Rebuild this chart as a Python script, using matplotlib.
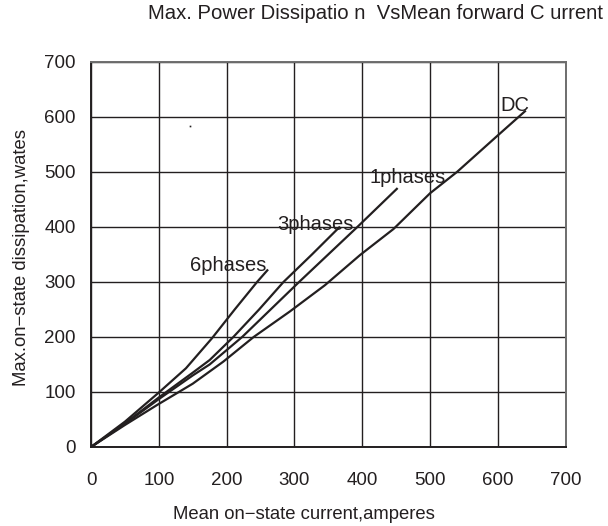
import matplotlib
matplotlib.use("Agg")
import matplotlib.pyplot as plt

plt.rcParams["font.family"] = ["Liberation Sans", "DejaVu Sans"]

INK = "#231f20"

# curves (x: amperes, y: watts)
x_6ph = [0, 50, 100, 140, 178, 212, 245, 260]
y_6ph = [0, 46, 99, 143, 197, 250, 300, 321]
x_3ph = [0, 50, 100, 150, 175, 210, 248, 284, 326, 366]
y_3ph = [0, 43, 90, 135, 158, 200, 250, 300, 350, 399]
x_1ph = [0, 50, 100, 150, 175, 223, 265, 307, 350, 393, 451]
y_1ph = [0, 42, 87, 130, 150, 200, 250, 300, 350, 400, 469]
x_dc = [0, 50, 97, 150, 195, 240, 293, 345, 397, 446, 500, 540, 598, 640]
y_dc = [0, 40, 76, 115, 155, 200, 246, 294, 349, 396, 461, 500, 564, 610]

curve_names = ["6phases", "3phases", "1phases", "DC"]
label_x = [146, 274, 410, 604]
label_y = [320, 394, 480, 611]

ticks = [0, 100, 200, 300, 400, 500, 600, 700]

fig = plt.figure(figsize=(6.08, 5.26), dpi=100)
ax = fig.add_axes([0.1497, 0.1502, 0.7807, 0.7325])

for xs, ys in [(x_6ph, y_6ph), (x_3ph, y_3ph), (x_1ph, y_1ph), (x_dc, y_dc)]:
    ax.plot(xs, ys, color=INK, lw=1.6, solid_joinstyle="round")

for name, lx, ly in zip(curve_names, label_x, label_y):
    ax.text(lx, ly, name, fontsize=14.5, color=INK, ha="left", va="baseline")

# stray speck in the scan
ax.plot([146], [583], marker="s", ms=1.2, color=INK, mew=0)

ax.set_xlim(0, 700)
ax.set_ylim(0, 700)
ax.set_xticks(ticks)
ax.set_yticks(ticks)
ax.grid(True, color=INK, lw=1.0)
ax.tick_params(length=0, labelsize=13.5, colors=INK)
ax.tick_params(axis="x", pad=18)
ax.tick_params(axis="y", pad=11)
for s in ax.spines.values():
    s.set_color("#6e6e6e")
    s.set_linewidth(1.4)
ax.spines["left"].set_color(INK)
ax.spines["bottom"].set_color(INK)

fig.text(0.243, 0.975, "Max. Power Dissipatio n  VsMean forward C urrent",
         fontsize=14.6, color=INK, ha="left", va="center")
fig.text(0.5, 0.021, "Mean on−state current,amperes",
         fontsize=13.3, color=INK, ha="center", va="center")
fig.text(0.036, 0.51, "Max.on−state dissipation,wates",
         fontsize=13.3, color=INK, ha="center", va="center", rotation=90)

fig.savefig("out.png", dpi=100)
